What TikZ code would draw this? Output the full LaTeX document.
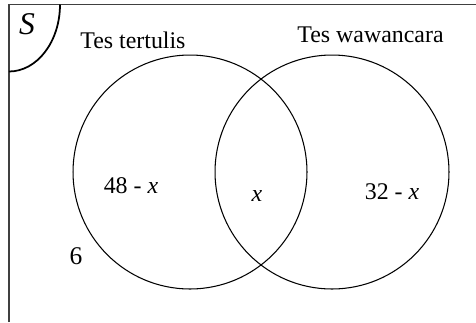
\documentclass[tikz,border=0pt]{standalone}
\usepackage{fontspec}
\setmainfont{Liberation Serif}
\begin{document}
\begin{tikzpicture}[x=0.02cm,y=-0.02cm,
    lbl/.style={font=\fontsize{13.6}{16}\selectfont, inner sep=0pt},
    set/.style={circle, draw, line width=0.6pt, minimum size=4.68cm, inner sep=0pt}]
        \useasboundingbox (0,0) rectangle (476,322);
        % frame of S
        \draw[black!75, line width=0.9pt] (9,322) -- (9,4.5) -- (476,4.5);
        \draw[line width=1pt] (60,4.5) arc[start angle=0, end angle=90, x radius=51, y radius=67];
        \node[lbl, font=\fontsize{18}{20}\selectfont\itshape] (s) at (27,24) {S};
        
        % the two tests
        \node[set] (tertulis) at (190,172) {};
        \node[set] (wawancara) at (332,172) {};
        \node[lbl, anchor=west] (ttl) at (80,40) {Tes tertulis};
        \node[lbl, anchor=west] (twl) at (297,35) {Tes wawancara};
        
        % regions
        \node[lbl] (only1) at (131,186) {48 - \textit{x}};
        \node[lbl] (both) at (257,196) {\textit{x}};
        \node[lbl] (only2) at (392,192) {32 - \textit{x}};
        \node[lbl, font=\fontsize{14.5}{16}\selectfont] (none) at (76,256) {6};
\end{tikzpicture}
\end{document}
